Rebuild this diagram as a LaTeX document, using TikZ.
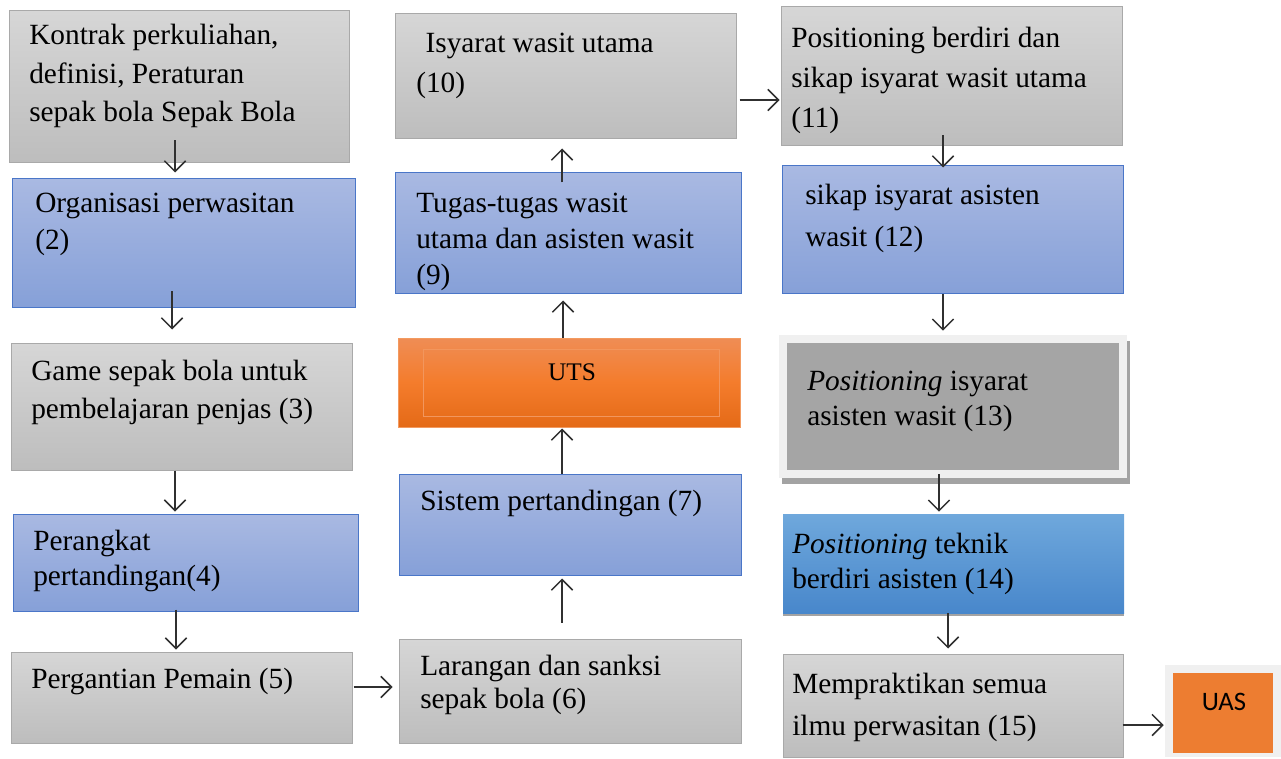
\documentclass[tikz,border=0pt]{standalone}
\usepackage{fontspec}
\setmainfont{Liberation Serif}
\newfontfamily\uasfont{Carlito}
\usetikzlibrary{arrows.meta,calc,fit}

\definecolor{graytop}{HTML}{D6D6D6}
\definecolor{graybot}{HTML}{BDBDBD}
\definecolor{grayline}{HTML}{A9A9A9}
\definecolor{bluetop}{HTML}{A9B9E2}
\definecolor{bluebot}{HTML}{86A0D8}
\definecolor{blueline}{HTML}{4A76C8}
\definecolor{skytop}{HTML}{6FA8DC}
\definecolor{skybot}{HTML}{4887CB}
\definecolor{orangetop}{HTML}{EF8D55}
\definecolor{orangemid}{HTML}{F47C2C}
\definecolor{orangebot}{HTML}{E46A17}
\definecolor{orangeline}{HTML}{F39A60}
\definecolor{uasorange}{HTML}{ED7D31}
\definecolor{framegray}{HTML}{F0F0F0}
\definecolor{darkgray}{HTML}{A5A5A5}
\definecolor{shadegray}{HTML}{A3A3A3}
\definecolor{arrowgray}{HTML}{303030}

\begin{document}
\begin{tikzpicture}
  [x=0.75pt,y=-0.75pt,
   graybox/.style={draw=grayline,line width=0.75pt,top color=graytop,bottom color=graybot,inner sep=0pt},
   bluebox/.style={draw=blueline,line width=0.75pt,top color=bluetop,bottom color=bluebot,inner sep=0pt},
   txt/.style={anchor=base west,align=left,inner sep=0pt,font=\fontsize{22}{#1}\selectfont},
   txt/.default=28.5,
   arr/.style={draw=arrowgray,line width=1.1pt,-{Straight Barb[length=8pt,width=16pt,line width=1.1pt]}}]
  \useasboundingbox (0,0) rectangle (1281,759);

  % left column
  \node[graybox,fit={(9,11) (349,163)}] (b1) {};
  \node[bluebox,fit={(12,179) (355,307)}] (b2) {};
  \node[graybox,fit={(11,343) (352,470)}] (b3) {};
  \node[bluebox,fit={(13,514) (358,611)}] (b4) {};
  \node[graybox,fit={(11,652) (352,743)}] (b5) {};

  % texts sit on the baseline of their last line
  \node[txt=28.9] (t1) at (29,122) {Kontrak perkuliahan,\\definisi, Peraturan\\sepak bola Sepak Bola};
  \node[txt=27.75] (t2) at (35,250) {Organisasi perwasitan\\(2)};
  \node[txt] (t3) at (31,418) {Game sepak bola untuk\\pembelajaran penjas (3)};
  \node[txt=26.25] (t4) at (33,585) {Perangkat\\pertandingan(4)};
  \node[txt] (t5) at (31,688) {Pergantian Pemain (5)};

  % middle column
  \node[graybox,fit={(395,14) (736,139)}] (b10) {};
  \node[bluebox,fit={(395,173) (741,294)}] (b9) {};
  \node[draw=orangeline,line width=0.75pt,top color=orangetop,bottom color=orangebot,
        middle color=orangemid,inner sep=0pt,fit={(398,338) (740,427)}] (uts) {};
  \node[draw=orangeline!70!orangetop,line width=0.6pt,inner sep=0pt,fit={(423,349) (719,416)}] (utsin) {};
  \node[bluebox,fit={(399,474) (741,575)}] (b7) {};
  \node[graybox,fit={(399,639) (741,743)}] (b6) {};

  \node[txt=30] (t10) at (416,93) {\hspace{7pt}Isyarat wasit utama\\(10)};
  \node[txt=27] (t9) at (416,285) {Tugas-tugas wasit\\utama dan asisten wasit\\(9)};
  \node[anchor=base,inner sep=0pt,font=\fontsize{19}{22}\selectfont] (tuts) at (572,380) {UTS};
  \node[txt] (t7) at (420,510) {Sistem pertandingan (7)};
  \node[txt=24.75] (t6) at (420,708) {Larangan dan sanksi\\sepak bola (6)};

  % right column
  \node[graybox,fit={(781,7) (1122,146)}] (b11) {};
  \node[bluebox,fit={(782,166) (1123,294)}] (b12) {};
  \fill[shadegray] (782,341) rectangle (1130,484);
  \node[fill=framegray,inner sep=0pt,fit={(779,335) (1127,478)}] (b13) {};
  \node[fill=darkgray,inner sep=0pt,fit={(787,343) (1119,470)}] (b13in) {};
  \fill[shadegray] (783,517) rectangle (1124,616);
  \node[top color=skytop,bottom color=skybot,inner sep=0pt,fit={(783,514) (1124,613)}] (b14) {};
  \node[graybox,fit={(783,654) (1123,757)}] (b15) {};
  \node[fill=framegray,inner sep=0pt,fit={(1165,665) (1281,757)}] (uas) {};
  \node[fill=uasorange,inner sep=0pt,fit={(1173,673) (1273,753)}] (uasin) {};

  \node[txt=30] (t11) at (791,128) {Positioning berdiri dan\\sikap isyarat wasit utama\\(11)};
  \node[txt=31.5] (t12) at (805,247) {sikap isyarat asisten\\wasit (12)};
  \node[txt=26.25] (t13) at (807,425) {\textit{Positioning} isyarat\\asisten wasit (13)};
  \node[txt=26.25] (t14) at (792,588) {\textit{Positioning} teknik\\berdiri asisten (14)};
  \node[txt=31.5] (t15) at (792,735) {Mempraktikan semua\\ilmu perwasitan (15)};
  \node[anchor=base,inner sep=0pt,font=\uasfont\fontsize{20}{24}\selectfont] (tuas) at (1224,710) {UAS};

  % arrows
  \draw[arr] ($(b1.south)+(-4,-23)$) -- ($(b2.north)+(-8.5,-6)$);
  \draw[arr] ($(b2.south)+(-11.5,-16)$) -- ($(b3.north)+(-9.5,-13)$);
  \draw[arr] ($(b3.south)+(-6.5,0)$) -- ($(b4.north)+(-10.5,-2)$);
  \draw[arr] ($(b4.south)+(-9.5,-2)$) -- ($(b5.north)+(-5.5,-2)$);
  \draw[arr] ($(b5.east)+(1,-10.5)$) -- ($(b6.west)+(-6,-4)$);
  \draw[arr] ($(b6.north)+(-8,-16)$) -- ($(b7.south)+(-8,3)$);
  \draw[arr] ($(b7.north)+(-8,0)$) -- ($(uts.south)+(-7,1)$);
  \draw[arr] ($(uts.north)+(-6,0)$) -- ($(b9.south)+(-5,6)$);
  \draw[arr] ($(b9.north)+(-6,10)$) -- ($(b10.south)+(-3.5,9)$);
  \draw[arr] ($(b10.east)+(3,23.5)$) -- ($(b11.west)+(-1,23.5)$);
  \draw[arr] ($(b11.south)+(-8.5,-11)$) -- ($(b12.north)+(-9.5,2)$);
  \draw[arr] ($(b12.south)+(-9.5,0)$) -- ($(b13.north)+(-10,-4)$);
  \draw[arr] ($(b13.south)+(-14,-4)$) -- ($(b14.north)+(-14.5,-2)$);
  \draw[arr] ($(b14.south)+(-5.5,0)$) -- ($(b15.north)+(-5,-5)$);
  \draw[arr] ($(b15.east)+(-1,19.5)$) -- ($(uas.west)+(-1,14)$);

\end{tikzpicture}
\end{document}
